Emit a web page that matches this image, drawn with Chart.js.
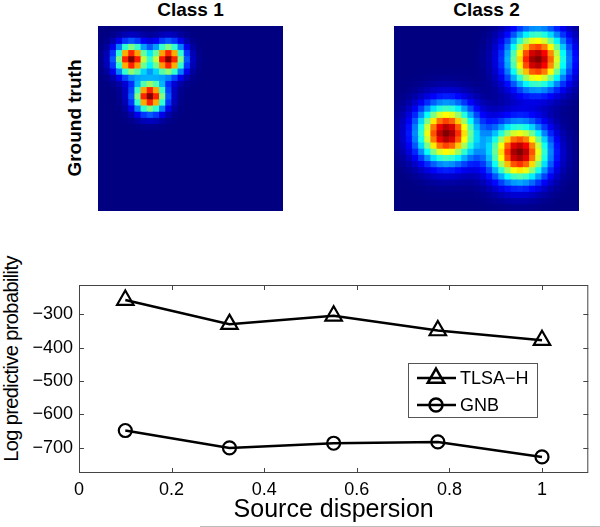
<!DOCTYPE html>
<html>
<head>
<meta charset="utf-8">
<script src="https://cdn.jsdelivr.net/npm/chart.js@4.4.0/dist/chart.umd.min.js"></script>
<style>
  body { margin: 0; background: #fff; width: 600px; height: 527px; position: relative; overflow: hidden;
         font-family: "Liberation Sans", Arial, sans-serif; }
  canvas { position: absolute; }
  .title { position: absolute; font-weight: bold; font-size: 19px; line-height: 20px; text-align: center; color: #000; }
  .side { position: absolute; left: -5px; top: 108px; width: 160px; font-weight: bold; font-size: 19px;
          line-height: 20px; text-align: center; transform: rotate(-90deg); }
  .ylab { position: absolute; left: -119px; top: 348px; width: 260px; font-size: 20px; letter-spacing: -0.6px;
          line-height: 22px; text-align: center; transform: rotate(-90deg); }
</style>
</head>
<body>
<div class="title" style="left:98px;top:0px;width:185px">Class 1</div>
<div class="title" style="left:394px;top:0px;width:185px">Class 2</div>
<div class="side">Ground truth</div>
<div class="ylab">Log predictive probability</div>
<canvas id="heat1" width="185" height="185" style="left:98px;top:26px"></canvas>
<canvas id="heat2" width="185" height="185" style="left:394px;top:26px"></canvas>
<canvas id="lines" width="600" height="277" style="left:0;top:250px"></canvas>
<script>
// heat maps: 30x30 grid, gaussian sources (centers, in cell units)
const gridSize = 30;
const class1CenterX = [5, 11, 8];
const class1CenterY = [5, 5, 11];
const class1Width = 1.7;
const class2CenterX = [22.8, 8.1, 19.9];
const class2CenterY = [5, 17, 20.1];
const class2Width = 3.1;

// line plot
const dispersion = [0.1, 0.325, 0.55, 0.775, 1.0];
const tlsaH = [-258, -330, -305, -349, -378];
const gnb = [-648, -700, -686, -682, -727];
const xTicks = [0, 0.2, 0.4, 0.6, 0.8, 1];
const yTicks = [-700, -600, -500, -400, -300];

function jet(v) {
  const c = t => Math.round(255 * Math.max(0, Math.min(1, 1.5 - Math.abs(t))));
  return `rgb(${c(4 * v - 3)},${c(4 * v - 2)},${c(4 * v - 1)})`;
}

function heatCells(cx, cy, s) {
  const pts = [], vals = [];
  for (let j = 0; j < gridSize; j++) {
    for (let i = 0; i < gridSize; i++) {
      let v = 0;
      cx.forEach((c, k) => {
        const dx = i - c, dy = j - cy[k];
        v += Math.exp(-(dx * dx + dy * dy) / (2 * s * s));
      });
      pts.push({ x: i, y: j });
      vals.push(v);
    }
  }
  const max = Math.max(...vals);
  return { pts, colors: vals.map(v => jet(v / max)) };
}

function drawHeat(id, cx, cy, s) {
  const cells = heatCells(cx, cy, s);
  new Chart(document.getElementById(id), {
    type: 'scatter',
    data: {
      datasets: [{
        data: cells.pts,
        pointStyle: 'rect',
        pointRadius: 5.2,
        pointHoverRadius: 5.2,
        borderWidth: 0,
        pointBorderWidth: 0,
        backgroundColor: cells.colors
      }]
    },
    options: {
      responsive: false,
      animation: false,
      layout: { padding: 0, autoPadding: false },
      scales: {
        x: { type: 'linear', min: -0.5, max: gridSize - 0.5, display: false },
        y: { type: 'linear', min: -0.5, max: gridSize - 0.5, reverse: true, display: false }
      },
      plugins: { legend: { display: false }, tooltip: { enabled: false } }
    }
  });
}

drawHeat('heat1', class1CenterX, class1CenterY, class1Width);
drawHeat('heat2', class2CenterX, class2CenterY, class2Width);

const tickFont = { family: '"Liberation Sans", Arial, sans-serif', size: 18 };
const minus = v => String(v).replace('-', '\u2212');

// MATLAB style box with inward ticks, plus the legend box
const boxPlugin = {
  id: 'box',
  afterDraw(chart) {
    const { ctx, chartArea: a, scales: { x, y } } = chart;
    ctx.save();
    ctx.strokeStyle = '#444';
    ctx.lineWidth = 1;
    ctx.strokeRect(a.left + 0.5, a.top + 0.5, a.right - a.left - 1, a.bottom - a.top - 1);
    ctx.beginPath();
    xTicks.forEach(v => {
      const px = Math.round(x.getPixelForValue(v)) + 0.5;
      ctx.moveTo(px, a.bottom); ctx.lineTo(px, a.bottom - 5);
      ctx.moveTo(px, a.top); ctx.lineTo(px, a.top + 5);
    });
    yTicks.forEach(v => {
      const py = Math.round(y.getPixelForValue(v)) + 0.5;
      ctx.moveTo(a.left, py); ctx.lineTo(a.left + 5, py);
      ctx.moveTo(a.right, py); ctx.lineTo(a.right - 5, py);
    });
    ctx.stroke();

    // legend
    const lx = 408, ly = 113, lw = 129, lh = 54;
    ctx.fillStyle = '#fff';
    ctx.fillRect(lx, ly, lw, lh);
    ctx.strokeStyle = '#555';
    ctx.strokeRect(lx + 0.5, ly + 0.5, lw, lh);
    const rows = chart.data.datasets;
    rows.forEach((ds, i) => {
      const yy = ly + 15 + i * 27;
      ctx.strokeStyle = '#000';
      ctx.lineWidth = 2.5;
      ctx.beginPath();
      ctx.moveTo(lx + 9, yy); ctx.lineTo(lx + 48, yy);
      ctx.stroke();
      ctx.fillStyle = 'rgba(0,0,0,0)';
      Chart.helpers.drawPoint(ctx, {
        pointStyle: ds.pointStyle, radius: ds.pointRadius, rotation: 0, borderWidth: 2
      }, lx + 28, yy);
      ctx.fillStyle = '#000';
      ctx.font = '18px "Liberation Sans", Arial, sans-serif';
      ctx.textBaseline = 'middle';
      ctx.textAlign = 'left';
      ctx.fillText(ds.label, lx + 52, yy + 1);
    });
    ctx.restore();

    // faint rule under the x label
    ctx.save();
    ctx.strokeStyle = '#bbb';
    ctx.beginPath();
    ctx.moveTo(200, chart.height - 0.5); ctx.lineTo(600, chart.height - 0.5);
    ctx.stroke();
    ctx.restore();
  }
};

new Chart(document.getElementById('lines'), {
  type: 'line',
  data: {
    labels: dispersion,
    datasets: [
      {
        label: 'TLSA\u2212H',
        data: dispersion.map((d, i) => ({ x: d, y: tlsaH[i] })),
        borderColor: '#000',
        borderWidth: 2.5,
        pointStyle: 'triangle',
        pointRadius: 9.5,
        pointBorderWidth: 2.2,
        pointBorderColor: '#000',
        pointBackgroundColor: 'rgba(0,0,0,0)',
        tension: 0
      },
      {
        label: 'GNB',
        data: dispersion.map((d, i) => ({ x: d, y: gnb[i] })),
        borderColor: '#000',
        borderWidth: 2.5,
        pointStyle: 'circle',
        pointRadius: 6.5,
        pointBorderWidth: 2.2,
        pointBorderColor: '#000',
        pointBackgroundColor: 'rgba(0,0,0,0)',
        tension: 0
      }
    ]
  },
  options: {
    responsive: false,
    animation: false,
    layout: { padding: { top: 35, right: 3, left: 0, bottom: 0 } },
    scales: {
      x: {
        type: 'linear', min: 0, max: 1.1,
        afterFit: s => { s.height = 54; },
        afterBuildTicks: s => { s.ticks = xTicks.map(v => ({ value: v })); },
        grid: { display: false, drawTicks: false },
        border: { display: false },
        ticks: { font: tickFont, color: '#000', padding: 6, maxRotation: 0, callback: v => String(v) },
        title: { display: true, text: 'Source dispersion', color: '#000',
                 font: { family: '"Liberation Sans", Arial, sans-serif', size: 25 }, padding: { top: 0, bottom: 2 } }
      },
      y: {
        type: 'linear', min: -775, max: -213,
        afterFit: s => { s.width = 79; },
        afterBuildTicks: s => { s.ticks = yTicks.map(v => ({ value: v })); },
        grid: { display: false, drawTicks: false },
        border: { display: false },
        ticks: { font: tickFont, color: '#000', padding: 6, callback: v => minus(v) }
      }
    },
    plugins: { legend: { display: false }, tooltip: { enabled: false } }
  },
  plugins: [boxPlugin]
});
</script>
</body>
</html>
